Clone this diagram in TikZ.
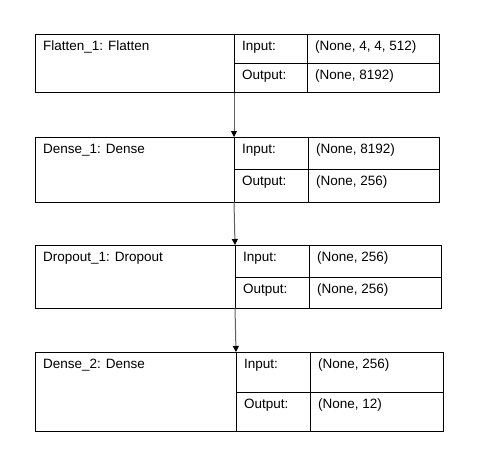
\documentclass[tikz,border=0pt]{standalone}
\usepackage{fontspec}
\setmainfont{Liberation Sans}
\usetikzlibrary{positioning, arrows.meta}

\tikzset{
    cell/.style={draw, line width=1pt, anchor=north west, inner sep=0pt, outer sep=0pt},
    txt/.style={anchor=north west, inner xsep=8pt, inner ysep=7pt, font=\fontsize{13.5}{16}\selectfont},
    flow/.style={draw=gray!75!black, line width=1pt, -{Triangle[width=6pt, length=6pt, black]}}
}

\begin{document}
\begin{tikzpicture}[x=1pt, y=-1pt]
    \useasboundingbox (0,0) rectangle (496,455);

    % flatten layer
    \node[cell, minimum width=199pt, minimum height=58.6pt, label={[txt]north west:{Flatten\_1: Flatten}}] (flat) at (35,34) {};
    \node[cell, minimum width=73pt, minimum height=29pt, label={[txt]north west:{Input:}}] (flatin) at (flat.north east) {};
    \node[cell, minimum width=132.7pt, minimum height=29pt, label={[txt]north west:{(None, 4, 4, 512)}}] (flatinv) at (flatin.north east) {};
    \node[cell, minimum width=73pt, minimum height=29.6pt, label={[txt]north west:{Output:}}] (flatout) at (flatin.south west) {};
    \node[cell, minimum width=132.7pt, minimum height=29.6pt, label={[txt]north west:{(None, 8192)}}] (flatoutv) at (flatout.north east) {};

    % first dense layer
    \node[cell, minimum width=199pt, minimum height=65pt, label={[txt]north west:{Dense\_1: Dense}}] (dense) at (35,137) {};
    \node[cell, minimum width=74pt, minimum height=32pt, label={[txt]north west:{Input:}}] (densein) at (dense.north east) {};
    \node[cell, minimum width=131pt, minimum height=32pt, label={[txt]north west:{(None, 8192)}}] (denseinv) at (densein.north east) {};
    \node[cell, minimum width=74pt, minimum height=33pt, label={[txt]north west:{Output:}}] (denseout) at (densein.south west) {};
    \node[cell, minimum width=131pt, minimum height=33pt, label={[txt]north west:{(None, 256)}}] (denseoutv) at (denseout.north east) {};

    % dropout layer
    \node[cell, minimum width=200pt, minimum height=63pt, label={[txt]north west:{Dropout\_1: Dropout}}] (drop) at (35,245) {};
    \node[cell, minimum width=74pt, minimum height=32pt, label={[txt]north west:{Input:}}] (dropin) at (drop.north east) {};
    \node[cell, minimum width=132pt, minimum height=32pt, label={[txt]north west:{(None, 256)}}] (dropinv) at (dropin.north east) {};
    \node[cell, minimum width=74pt, minimum height=31pt, label={[txt]north west:{Output:}}] (dropout) at (dropin.south west) {};
    \node[cell, minimum width=132pt, minimum height=31pt, label={[txt]north west:{(None, 256)}}] (dropoutv) at (dropout.north east) {};

    % second dense layer
    \node[cell, minimum width=201pt, minimum height=79pt, label={[txt]north west:{Dense\_2: Dense}}] (last) at (35,352) {};
    \node[cell, minimum width=74pt, minimum height=40pt, label={[txt]north west:{Input:}}] (lastin) at (last.north east) {};
    \node[cell, minimum width=133pt, minimum height=40pt, label={[txt]north west:{(None, 256)}}] (lastinv) at (lastin.north east) {};
    \node[cell, minimum width=74pt, minimum height=39pt, label={[txt]north west:{Output:}}] (lastout) at (lastin.south west) {};
    \node[cell, minimum width=133pt, minimum height=39pt, label={[txt]north west:{(None, 12)}}] (lastoutv) at (lastout.north east) {};

    \draw[flow] (flat.south east) -- (dense.north east);
    \draw[flow] (dense.south east) -- (drop.north east);
    \draw[flow] (drop.south east) -- (last.north east);

\end{tikzpicture}
\end{document}
